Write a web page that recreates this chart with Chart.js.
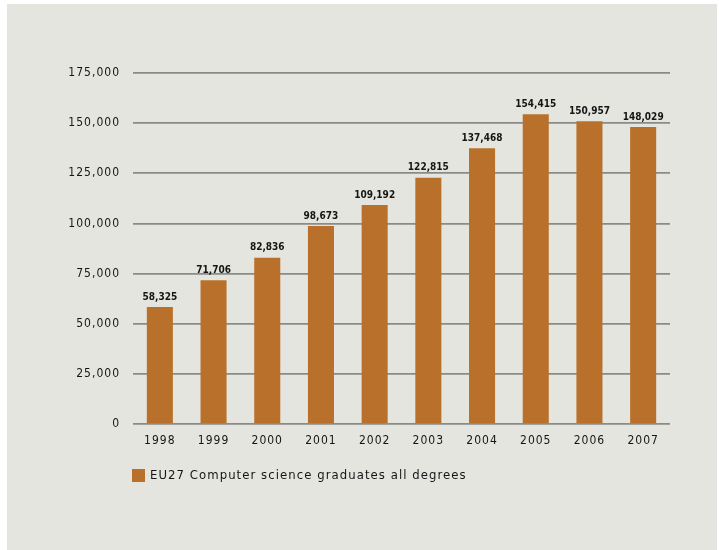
<!DOCTYPE html>
<html>
<head>
<meta charset="utf-8">
<script src="https://cdn.jsdelivr.net/npm/chart.js@4.4.1/dist/chart.umd.min.js"></script>
<style>
  html, body { margin: 0; padding: 0; background: #ffffff; }
  #wrap { width: 719px; height: 550px; }
</style>
</head>
<body>
<div id="wrap"><canvas id="c" width="719" height="550"></canvas></div>
<script>
const categories = ['1998', '1999', '2000', '2001', '2002', '2003', '2004', '2005', '2006', '2007'];
const graduates = [58325, 71706, 82836, 98673, 109192, 122815, 137468, 154415, 150957, 148029];
const valueLabels = ['58,325', '71,706', '82,836', '98,673', '109,192', '122,815', '137,468', '154,415', '150,957', '148,029'];
const seriesName = 'EU27 Computer science graduates all degrees';
const yMax = 175000;
const yStep = 25000;

const barColor = '#b9702a';

const panelPlugin = {
  id: 'panel',
  beforeDraw(chart) {
    const ctx = chart.ctx;
    ctx.save();
    ctx.fillStyle = '#ffffff';
    ctx.fillRect(0, 0, chart.width, chart.height);
    ctx.fillStyle = '#e5e5e0';
    ctx.fillRect(7, 4, 710, 546);
    ctx.restore();
    ctx.letterSpacing = '1px';
  }
};

const labelsPlugin = {
  id: 'valueLabels',
  afterDatasetsDraw(chart) {
    const ctx = chart.ctx;
    const meta = chart.getDatasetMeta(0);
    ctx.save();
    ctx.letterSpacing = '0px';
    ctx.font = 'bold 10px "DejaVu Sans Condensed", "DejaVu Sans", sans-serif';
    ctx.fillStyle = '#151515';
    ctx.textAlign = 'center';
    ctx.textBaseline = 'bottom';
    meta.data.forEach((bar, i) => {
      ctx.fillText(valueLabels[i], bar.x, bar.y - 5);
    });
    ctx.restore();
  }
};

const legendPlugin = {
  id: 'customLegend',
  afterDraw(chart) {
    const ctx = chart.ctx;
    ctx.save();
    ctx.fillStyle = barColor;
    ctx.fillRect(132, 469, 13, 13);
    ctx.letterSpacing = '1.05px';
    ctx.font = '13px "DejaVu Sans Condensed", "DejaVu Sans", sans-serif';
    ctx.fillStyle = '#151515';
    ctx.textAlign = 'left';
    ctx.textBaseline = 'middle';
    ctx.fillText(chart.data.datasets[0].label, 150, 476);
    ctx.restore();
  }
};

new Chart(document.getElementById('c'), {
  type: 'bar',
  data: {
    labels: categories,
    datasets: [{
      label: seriesName,
      data: graduates,
      backgroundColor: barColor,
      borderWidth: 0,
      barPercentage: 0.5,
      categoryPercentage: 0.97
    }]
  },
  options: {
    responsive: false,
    animation: false,
    devicePixelRatio: 1,
    layout: { padding: { top: 73, right: 49, bottom: 96, left: 0 } },
    plugins: {
      legend: { display: false },
      tooltip: { enabled: false }
    },
    scales: {
      x: {
        grid: { display: false, drawTicks: false },
        border: { display: false },
        ticks: {
          color: '#151515',
          padding: 10,
          font: { family: '"DejaVu Sans Condensed", "DejaVu Sans", sans-serif', size: 12 },
          maxRotation: 0
        },
        afterFit(scale) { scale.height = 30; }
      },
      y: {
        min: 0,
        max: yMax,
        grid: { color: '#8a8a88', lineWidth: 1.8, drawTicks: false },
        border: { display: false },
        ticks: {
          stepSize: yStep,
          color: '#151515',
          padding: 13,
          font: { family: '"DejaVu Sans Condensed", "DejaVu Sans", sans-serif', size: 12 },
          callback: (v) => v.toLocaleString('en-US')
        },
        afterFit(scale) { scale.width = 133; }
      }
    }
  },
  plugins: [panelPlugin, labelsPlugin, legendPlugin]
});
</script>
</body>
</html>
